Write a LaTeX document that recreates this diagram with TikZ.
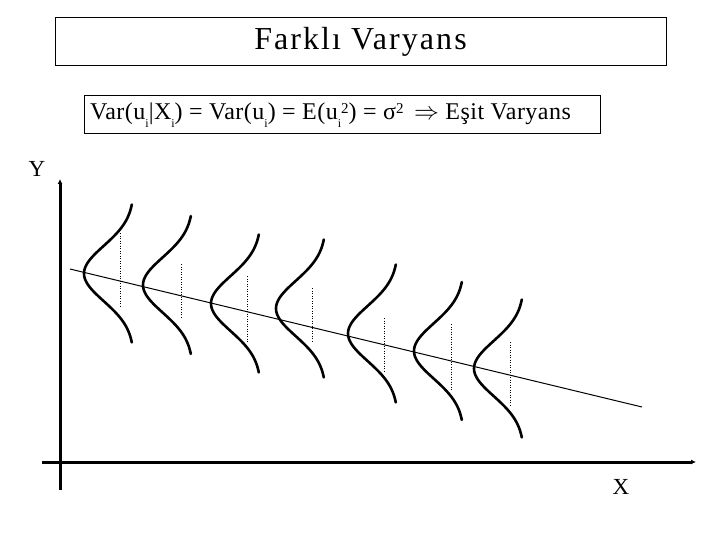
\documentclass[tikz,border=0pt]{standalone}
\usepackage{fontspec}
\setmainfont{Liberation Serif}
\usetikzlibrary{arrows.meta}
\newcommand\mysub[1]{\raisebox{-8pt}{\fontsize{12}{12}\selectfont #1}}
\newcommand\mysup[1]{\raisebox{6pt}{\fontsize{15}{15}\selectfont #1}}
\begin{document}
\begin{tikzpicture}[x=1pt,y=-1pt,
  box/.style={draw,line width=1pt},
  axis/.style={line width=3pt,-{Latex[length=5pt,width=5pt]}},
  bell/.style={line width=2.6pt,line cap=round},
  reg/.style={line width=1pt},
  mean/.style={line width=0.8pt,dash pattern=on 1pt off 1.5pt},
  lbl/.style={font=\fontsize{23}{27}\selectfont, inner sep=0pt}
]
\useasboundingbox (0,0) rectangle (720,540);
% title
\node[box, minimum width=611pt, minimum height=48pt, inner sep=0pt,
      font=\fontsize{32}{38}\selectfont\addfontfeature{LetterSpace=6.5}] (title) at (360.5,42) {Farklı Varyans};
% formula
\node[box, anchor=north west, minimum width=516pt, minimum height=38pt] (eqbox) at (84,95) {};
\node[anchor=base west, inner sep=0pt, font=\fontsize{24}{28}\selectfont\addfontfeature{LetterSpace=2}] (eq) at (90,120)
  {Var(u\mysub{i}|X\mysub{i}) = Var(u\mysub{i}) = E(u\mysub{i}\mysup{2}) = σ\mysup{2} \,$\Rightarrow$ Eşit Varyans};
% axes
\coordinate (yb) at (60,490);
\coordinate (yt) at (60,179);
\coordinate (xl) at (42,462);
\coordinate (xr) at (696,462);
\draw[axis] (yb) -- (yt);
\draw[axis] (xl) -- (xr);
\node[lbl, anchor=base] (ylab) at (37,177) {Y};
\node[lbl, anchor=base] (xlab) at (621,494) {X};
% bell curves and mean lines
\foreach \xo/\yc/\dx/\dt/\db in {84/273.5/120/233/307, 143/285/181/264/317, 211/303.5/247/276/343, 276/308.5/312/288/343, 348/333.5/384/318/373, 414/351/451/324/390, 474/368.5/510/342/407} {
  \draw[bell] plot[domain=-1:1,samples=61,smooth,variable=\t] ({\xo+50*(1-exp(-3.125*\t*\t))},{\yc+69*\t});
  \draw[mean] (\dx,\dt) -- (\dx,\db);
}
% regression line
\coordinate (r1) at (70,269);
\coordinate (r2) at (642,407);
\draw[reg] (r1) -- (r2);
\end{tikzpicture}
\end{document}
